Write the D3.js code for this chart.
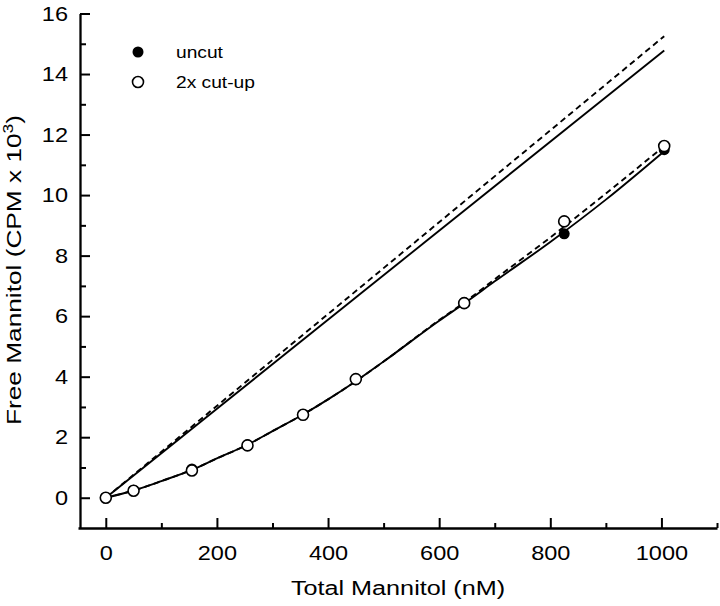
<!DOCTYPE html>
<html lang="en">
<head>
<meta charset="UTF-8">
<script src="https://d3js.org/d3.v7.min.js"></script>
<style>
  body { margin: 0; background: #fff; }
  text { font-family: "Liberation Sans", Arial, sans-serif; fill: #000; }
</style>
<title>Mannitol</title>
</head>
<body>
<div class="canvas"></div>
<script>
const areaWidth = 720
const areaHeight = 606

// measured points, x in nM
const totalNM = [0, 50, 155, 255, 355, 450, 645, 825, 1005]
const uncut = [0, 0.25, 0.95, 1.75, 2.75, 3.9, 6.45, 8.72, 11.5]
const cutUp = [0, 0.23, 0.9, 1.73, 2.74, 3.92, 6.43, 9.13, 11.62]

// fitted curves
const fitX = [0, 50, 100, 155, 200, 255, 300, 355, 400, 450, 500, 600, 645, 700, 800, 900, 1005]
const fitUncut = [0, 0.24, 0.55, 0.92, 1.3, 1.75, 2.2, 2.75, 3.25, 3.85, 4.5, 5.85, 6.42, 7.15, 8.45, 9.85, 11.45]
const fitCutUp = [0, 0.24, 0.55, 0.92, 1.3, 1.75, 2.2, 2.75, 3.25, 3.85, 4.5, 5.87, 6.45, 7.22, 8.6, 10.05, 11.62]

// straight lines from origin
const lineX = [0, 1005]
const lineUncut = [0, 14.78]
const lineCutUp = [0, 15.25]

const xTicks = [0, 200, 400, 600, 800, 1000]
const xMinor = [100, 300, 500, 700, 900, 1100]
const yTicks = [0, 2, 4, 6, 8, 10, 12, 14, 16]
const yMinor = [1, 3, 5, 7, 9, 11, 13, 15]

// the source text is a bit wider than Liberation Sans
const stretch = 1.2

const svg = d3.select('.canvas').append('svg')
  .attr('width', areaWidth)
  .attr('height', areaHeight)

const x = d3.scaleLinear().domain([-50, 1100]).range([78, 717])
const y = d3.scaleLinear().domain([-1, 16]).range([528, 13.5])

// minor ticks first
svg.append('g')
  .attr('transform', 'translate(0,528)')
  .call(d3.axisBottom(x).tickValues(xMinor).tickSizeInner(-5).tickSizeOuter(0).tickFormat(''))
  .call(g => g.select('.domain').remove())
svg.append('g')
  .attr('transform', 'translate(80,0)')
  .call(d3.axisLeft(y).tickValues(yMinor).tickSizeInner(-6).tickSizeOuter(0).tickFormat(''))
  .call(g => g.select('.domain').remove())

const xAxisG = svg.append('g')
  .attr('transform', 'translate(0,528)')
  .call(d3.axisBottom(x).tickValues(xTicks).tickSizeInner(-10).tickSizeOuter(0)
    .tickPadding(17).tickFormat(d => d))
const yAxisG = svg.append('g')
  .attr('transform', 'translate(80,0)')
  .call(d3.axisLeft(y).tickValues(yTicks).tickSizeInner(-10).tickSizeOuter(0)
    .tickPadding(12).tickFormat(d => d))

svg.selectAll('.tick line').attr('stroke', '#000').attr('stroke-width', 2)
svg.selectAll('.domain').attr('stroke', '#000').attr('stroke-width', 2.3)
svg.selectAll('.tick text')
  .style('font-size', '21px')
  .attr('font-family', null)
  .each(function () {
    const t = d3.select(this)
    t.attr('lengthAdjust', 'spacingAndGlyphs')
      .attr('textLength', this.getComputedTextLength() * 1.12)
  })

const line = d3.line()
  .x(d => x(d[0]))
  .y(d => y(d[1]))
const curve = d3.line()
  .x(d => x(d[0]))
  .y(d => y(d[1]))
  .curve(d3.curveMonotoneX)

const series = [
  { xs: lineX, ys: lineUncut, gen: line, dash: null },
  { xs: lineX, ys: lineCutUp, gen: line, dash: '6,4' },
  { xs: fitX, ys: fitUncut, gen: curve, dash: null },
  { xs: fitX, ys: fitCutUp, gen: curve, dash: '6,4' }
]
series.forEach(s => {
  svg.append('path')
    .attr('d', s.gen(s.xs.map((v, i) => [v, s.ys[i]])))
    .attr('fill', 'none')
    .attr('stroke', '#000')
    .attr('stroke-width', 1.9)
    .attr('stroke-dasharray', s.dash)
})

svg.selectAll('circle.uncut').data(totalNM.map((v, i) => [v, uncut[i]]))
  .enter().append('circle')
  .attr('class', 'uncut')
  .attr('cx', d => x(d[0]))
  .attr('cy', d => y(d[1]))
  .attr('r', 5.5)
  .attr('fill', '#000')

svg.selectAll('circle.cut').data(totalNM.map((v, i) => [v, cutUp[i]]))
  .enter().append('circle')
  .attr('class', 'cut')
  .attr('cx', d => x(d[0]))
  .attr('cy', d => y(d[1]))
  .attr('r', 5.5)
  .attr('fill', '#fff')
  .attr('stroke', '#000')
  .attr('stroke-width', 1.6)

// legend
const legend = svg.append('g').attr('transform', 'translate(138,52)')
legend.append('circle').attr('r', 5.5).attr('fill', '#000')
legend.append('circle').attr('cy', 30).attr('r', 5.5).attr('fill', '#fff')
  .attr('stroke', '#000').attr('stroke-width', 1.6)
legend.append('text').attr('transform', `translate(38,0) scale(${stretch},1)`)
  .attr('dy', '0.35em').style('font-size', '16px').text('uncut')
legend.append('text').attr('transform', `translate(38,30) scale(${stretch},1)`)
  .attr('dy', '0.35em').style('font-size', '16px').text('2x cut-up')

// axis titles
svg.append('text')
  .attr('transform', `translate(398,595) scale(${stretch},1)`)
  .attr('text-anchor', 'middle')
  .style('font-size', '21px')
  .text('Total Mannitol (nM)')

const yTitle = svg.append('text')
  .attr('transform', `translate(21,270) rotate(-90) scale(1.25,1)`)
  .attr('text-anchor', 'middle')
  .style('font-size', '21px')
yTitle.append('tspan').text('Free Mannitol (CPM x 10')
yTitle.append('tspan').attr('dy', -8).style('font-size', '14px').text('3')
yTitle.append('tspan').attr('dy', 8).text(')')
</script>
</body>
</html>
